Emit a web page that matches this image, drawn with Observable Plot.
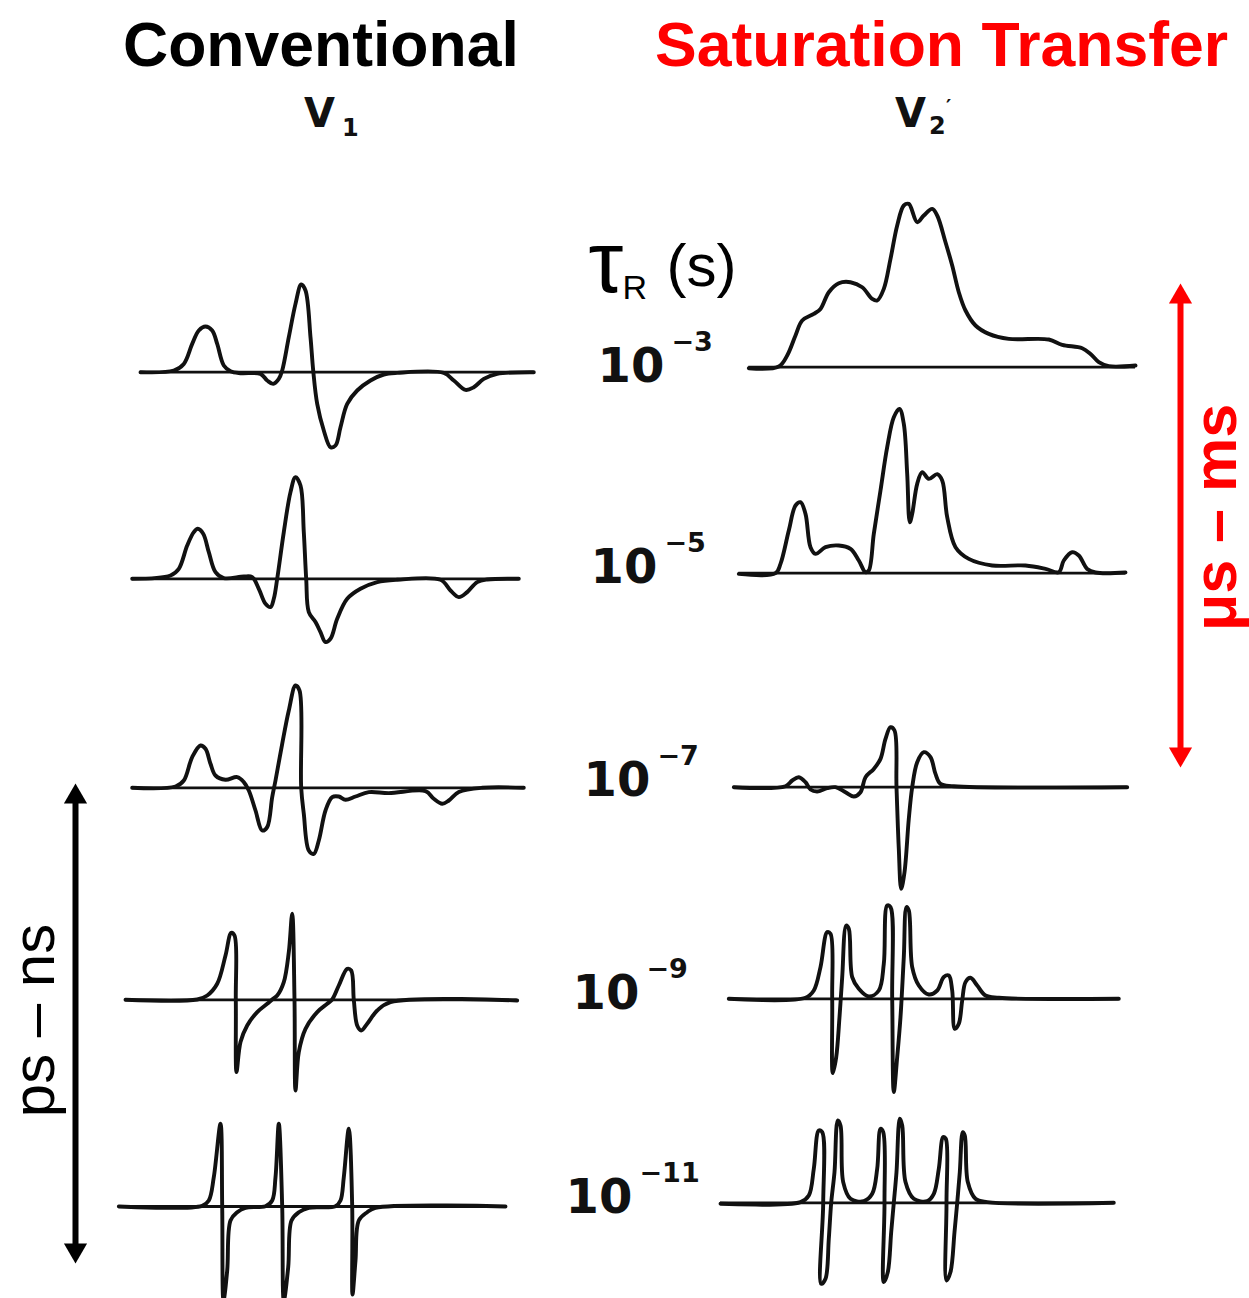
<!DOCTYPE html>
<html><head><meta charset="utf-8">
<script src="https://cdn.jsdelivr.net/npm/d3@7"></script>
<script src="https://cdn.jsdelivr.net/npm/@observablehq/plot@0.6"></script>
<style>
body{margin:0;background:#fff;}
#wrap{position:relative;width:1249px;height:1298px;overflow:hidden;background:#fff}
#head{position:relative;width:1249px;height:150px}
.t{position:absolute;white-space:nowrap;line-height:1}
#chart svg{display:block}
</style></head><body>
<div id="wrap">
  <div id="head">
    <div class="t" style="left:123px;top:8px;font:bold 62.5px 'Liberation Sans',Arial,sans-serif;color:#000">Conventional</div>
    <div class="t" style="left:655px;top:8px;font:bold 62.5px 'Liberation Sans',Arial,sans-serif;color:#ff0000">Saturation Transfer</div>
    <div class="t" style="left:304px;top:90px;font:bold 40px 'DejaVu Sans',sans-serif;color:#111">V</div>
    <div class="t" style="left:342px;top:114px;font:bold 24px 'DejaVu Sans',sans-serif;color:#111">1</div>
    <div class="t" style="left:895px;top:90px;font:bold 40px 'DejaVu Sans',sans-serif;color:#111">V</div>
    <div class="t" style="left:929px;top:112px;font:bold 24px 'DejaVu Sans',sans-serif;color:#111">2</div>
    <div class="t" style="left:946px;top:94px;font:bold 20px 'DejaVu Sans',sans-serif;color:#111">′</div>
  </div>
  <div id="chart"></div>
</div>
<script>
// ---------- DATA (field offset, amplitude) ----------
// Conventional EPR, V1 (first harmonic absorption), one trace per rotational correlation time
const conv_m3 = [[40,0],[73.3,1.7],[83.3,8.3],[91.7,28.3],[98.3,41.7],[105,45.7],[111.7,41.7],[116.7,28.3],[123.3,6.7],[130,1],[140,-1],[160,-1.7],[166.7,-8.3],[172.7,-11.7],[178.3,-6.7],[181.7,1.7],[188.3,35],[195,68.3],[200.7,87.7],[205,81.7],[210,35],[212.7,1.7],[216.7,-31.7],[223.3,-58.3],[230,-75],[235,-73.3],[240,-55],[246.7,-31.7],[256.7,-18.3],[270,-8.3],[283.3,-2.3],[296.7,-0.7],[343.3,-0.7],[353.3,-8.3],[365,-17.7],[373.3,-15],[383.3,-6.7],[396.7,-1.7],[433.3,0]];
const conv_m5 = [[31.7,0],[70,3.3],[78.3,10],[86.7,33.3],[93.3,46.7],[97.3,50],[102.7,45],[108.3,26.7],[115,6.7],[123.3,0.7],[143.3,2.3],[151.7,1.7],[158.3,-10],[165,-25],[170,-28.3],[173.3,-20],[176.7,0],[183.3,46.7],[190,86.7],[195,101.7],[200,93.3],[203.3,46.7],[205.7,0],[208.3,-33.3],[215,-43.3],[220,-53.3],[225,-63.3],[230,-60],[236.7,-40],[246.7,-20],[260,-10],[276.7,-3.3],[296.7,-1],[340,-1],[350,-11.7],[358.3,-18.3],[366.7,-13.3],[376.7,-3.3],[386.7,-0.7],[418.3,0]];
const conv_m7 = [[31.7,0],[75,1.3],[83.3,7.3],[91.7,30.7],[100,42.3],[105,39],[110,24],[115,12.3],[125,8],[136.7,10.7],[143.3,5.7],[148.3,-2.7],[155,-22.7],[161.7,-42.7],[166.7,-39.3],[171.7,-9.3],[175,7.3],[181.7,44],[188.3,77.3],[195,102.3],[199,97.3],[200.7,0],[203.3,-26],[208.3,-62.7],[213.3,-66],[218.3,-52.7],[225,-22.7],[231.7,-9.3],[238.3,-8.7],[245,-12],[255,-8.7],[268.3,-4.3],[288.3,-5.3],[325,-3.3],[333.3,-11],[341.7,-16],[348.3,-12.7],[358.3,-4.3],[381.7,0],[423.3,0]];
const conv_m9 = [[25,0],[96.7,0.3],[106.7,4.3],[116.7,16],[125,44.3],[130.7,67],[134,64.3],[135.3,0],[136,-72.3],[140,-42.3],[146.7,-25.7],[156.7,-12.3],[166.7,-4],[171.7,0.3],[176.7,4.3],[183.3,17.7],[188.3,47.7],[191.7,86],[194,0],[195,-90.7],[198.3,-52.3],[205,-29],[216.7,-12.3],[226.7,-4],[231.7,0.3],[238.3,14.3],[246.7,31],[250.7,29.3],[253.3,0],[256.7,-25.7],[260.7,-30.7],[266.7,-24],[276.7,-10.7],[290,-2.3],[416.7,-0.7]];
const conv_m11 = [[18.3,0],[101.7,0.7],[108.3,6],[113.3,29.3],[120,82.7],[121.7,0],[123,-94],[126.7,-64],[130,-14],[136.7,-5.7],[145,-1.3],[165,0.3],[171.7,6],[175,29.3],[178.3,82.7],[181.7,0],[183.3,-94],[187.7,-60.7],[191,-14],[198.3,-5.7],[208.3,-1.3],[235,0.3],[240,6],[243.3,29.3],[248.3,77.7],[251.7,0],[252,-88],[255,-54],[258.3,-14],[266.7,-5.7],[275,-1.3],[405,0]];

// Saturation-transfer EPR, V2' (second harmonic dispersion, out of phase)
const st_m3 = [[48.3,-1],[78.3,0.7],[86.7,11.7],[95,31.7],[101.7,46.7],[113.3,53.3],[120,58.3],[128.3,75],[138.3,84],[150,85],[161.7,80],[171.7,68.3],[176.7,66.7],[183.3,78.3],[190,108.3],[196.7,141.7],[203.3,161.7],[208.3,163.3],[216.7,145],[223.3,151.7],[231.7,158.3],[236.7,151.7],[245,125],[251.7,101.7],[258.3,75],[265,56.7],[275,41.7],[288.3,33.3],[308.3,28.3],[348.3,27.7],[361.7,22.3],[381.7,19],[390,13.3],[398.3,5],[408.3,1],[435,1.7]];
const st_m5 = [[38.3,-0.7],[75,0],[80,9.3],[88.3,42.7],[95,67.7],[100,71],[105,59.3],[110,26],[115,19.3],[125,26],[138.3,27.7],[150,24.3],[158.3,12.7],[165,1],[168.3,2.7],[173.3,39.3],[180,82.7],[186.7,126],[193.3,156],[199,164.3],[203.3,149.3],[206.7,99.3],[209.3,51],[211.7,59.3],[216.7,89.3],[221.7,101],[228.3,94.3],[236.7,99],[241.7,92.7],[246.7,56],[255,26],[268.3,14.3],[291.7,7.7],[325,7.7],[345,4.3],[358.3,1],[363.3,12.7],[371.7,21],[378.3,17.7],[386.7,4.3],[395,0.7],[425,0.7]];
const st_m7 = [[33.3,0],[85,1],[91.7,6.7],[98.3,10],[105,5],[110,-2.3],[116.7,-4.3],[126.7,-1],[135,0],[145,-5],[153.3,-9.3],[160,-5],[165,10],[173.3,18.3],[180,28.3],[185,48.3],[190,60],[194,56.7],[196,0],[198.3,-61.7],[200.7,-101.7],[204,-85],[208.3,-31.7],[211.7,0],[216.7,25],[223.3,35],[230,30],[235,13.3],[240,3.3],[253.3,1],[426.7,0]];
const st_m9 = [[28.3,0],[105,1],[113.3,8.3],[120,31.7],[126.7,66.7],[130,65],[131.7,0],[132.3,-74.3],[135.7,-58.3],[139,-18.3],[141.7,21.7],[145.7,73.3],[148.3,70],[151.7,21.7],[158.3,10],[168.3,2.3],[178.3,8.3],[183.3,35],[186.7,93.3],[190,91.7],[191.7,0],[193.3,-93.3],[196.7,-58.3],[200,-18.3],[203.3,41.7],[206,91.7],[208.3,88.3],[211.7,31.7],[218.3,13.3],[228.3,4.3],[236.7,8.3],[243.3,21.7],[248.3,23.3],[251.7,8.3],[254.3,-30],[258.3,-25],[261.7,-1.7],[265,16.7],[270,21],[276.7,13.3],[285,3.3],[298.3,1],[418.3,0]];
const st_m11 = [[20,-1],[100,0.7],[108.3,7.3],[113.3,34],[118.3,72.3],[121.7,70.7],[122.7,0],[120.7,-81],[125,-76],[128.3,-36],[130.7,0],[134,30.7],[137.3,82.3],[140,77.3],[142.7,20.7],[150,4],[163.3,1.7],[171.7,9],[176.7,34],[180,74],[182.7,70.7],[184,0],[183.3,-79.3],[187.3,-69.3],[190.7,-29.3],[193.3,0],[196,30.7],[199.3,84],[201.7,77.3],[205,20.7],[213.3,4],[226.7,1.7],[233.3,9],[238.3,34],[242.7,65.7],[245.3,64],[246,0],[246,-77.7],[250,-69.3],[254,-29.3],[256.7,0],[259.3,30.7],[262.3,70.7],[264.3,67.3],[267.3,20.7],[275,4],[286.7,0.7],[413.3,0]];

const tauExponents = ["−3", "−5", "−7", "−9", "−11"];
const convTraces = [conv_m3, conv_m5, conv_m7, conv_m9, conv_m11];
const stTraces = [st_m3, st_m5, st_m7, st_m9, st_m11];

// ---------- LAYOUT ----------
const PAGE_H = 1298, HEAD = 150, W = 1249, H = PAGE_H - HEAD;
const lev = (imgY) => PAGE_H - imgY;   // page row -> y value (up is positive)
const LAYOUT = {
  conv: {x0: 100, base: [371.7, 578.3, 787.3, 999.3, 1206]},
  st:   {x0: 700, base: [366.7, 572.7, 786.7, 998.3, 1202.3]}
};
const LABEL_X = [597, 590, 583, 572, 565];
const LABEL_BASE = [381, 582, 795, 1008, 1212];

const pts = [], bases = [];
for (const [col, list] of [["conv", convTraces], ["st", stTraces]]) {
  list.forEach((trace, r) => {
    const L = LAYOUT[col], key = col + r, b = lev(L.base[r]);
    trace.forEach(([f, a]) => pts.push({key, x: L.x0 + f, y: b + a}));
    bases.push({x1: L.x0 + trace[0][0], x2: L.x0 + trace[trace.length - 1][0], y: b});
  });
}
const rowLabels = tauExponents.map((e, i) => ({x: LABEL_X[i], y: lev(LABEL_BASE[i]), e}));

const arrows = [
  {x: 1180, top: 283, bottom: 767, color: "#ff0000"},
  {x: 75, top: 783, bottom: 1263, color: "#000000"}
];
const heads = arrows.flatMap(a => [
  {x: a.x, y: lev(a.top + 13.3), rot: 0, color: a.color},
  {x: a.x, y: lev(a.bottom - 13.3), rot: 180, color: a.color}
]);

const chart = Plot.plot({
  width: W, height: H, margin: 0,
  x: {domain: [0, W], axis: null},
  y: {domain: [0, H], axis: null},
  style: {background: "#fff"},
  marks: [
    Plot.ruleY(bases, {x1: "x1", x2: "x2", y: "y", stroke: "#111", strokeWidth: 2.8}),
    Plot.line(pts, {x: "x", y: "y", z: "key", stroke: "#111", strokeWidth: 3.9, curve: "catmull-rom", strokeLinejoin: "round"}),
    // tau_R (s)
    Plot.text([0], {x: 588, y: lev(291), text: () => "τ", fontSize: 88, fontFamily: "Liberation Sans", textAnchor: "start", lineAnchor: "bottom", fill: "#000"}),
    Plot.text([0], {x: 622, y: lev(298), text: () => "R", fontSize: 34, fontFamily: "Liberation Sans", textAnchor: "start", lineAnchor: "bottom", fill: "#000"}),
    Plot.text([0], {x: 666, y: lev(285), text: () => "(s)", fontSize: 60, fontFamily: "Liberation Sans", textAnchor: "start", lineAnchor: "bottom", fill: "#000"}),
    // 10^exp labels
    Plot.text(rowLabels, {x: "x", y: "y", text: () => "10", fontSize: 48, fontWeight: "bold", fontFamily: "DejaVu Sans", textAnchor: "start", lineAnchor: "bottom", fill: "#111"}),
    Plot.text(rowLabels, {x: d => d.x + 74, y: d => d.y + 31, text: "e", fontSize: 27, fontWeight: "bold", fontFamily: "DejaVu Sans", textAnchor: "start", lineAnchor: "bottom", fill: "#111"}),
    // arrows
    Plot.ruleX(arrows, {x: "x", y1: d => lev(d.top + 15), y2: d => lev(d.bottom - 15), stroke: "color", strokeWidth: 6}),
    Plot.dot(heads, {x: "x", y: "y", symbol: "triangle", r: 8.6, fill: "color", stroke: null, rotate: "rot"}),
    Plot.text([0], {x: 1235, y: lev(517), text: () => "μs – ms", rotate: -90, fontSize: 61, fontWeight: "bold", fontFamily: "Liberation Sans", textAnchor: "middle", lineAnchor: "bottom", fill: "#ff0000"}),
    Plot.text([0], {x: 53, y: lev(1020), text: () => "ps – ns", rotate: -90, fontSize: 60, fontFamily: "Liberation Sans", textAnchor: "middle", lineAnchor: "bottom", fill: "#000"})
  ]
});
document.getElementById("chart").appendChild(chart);
</script>
</body></html>
